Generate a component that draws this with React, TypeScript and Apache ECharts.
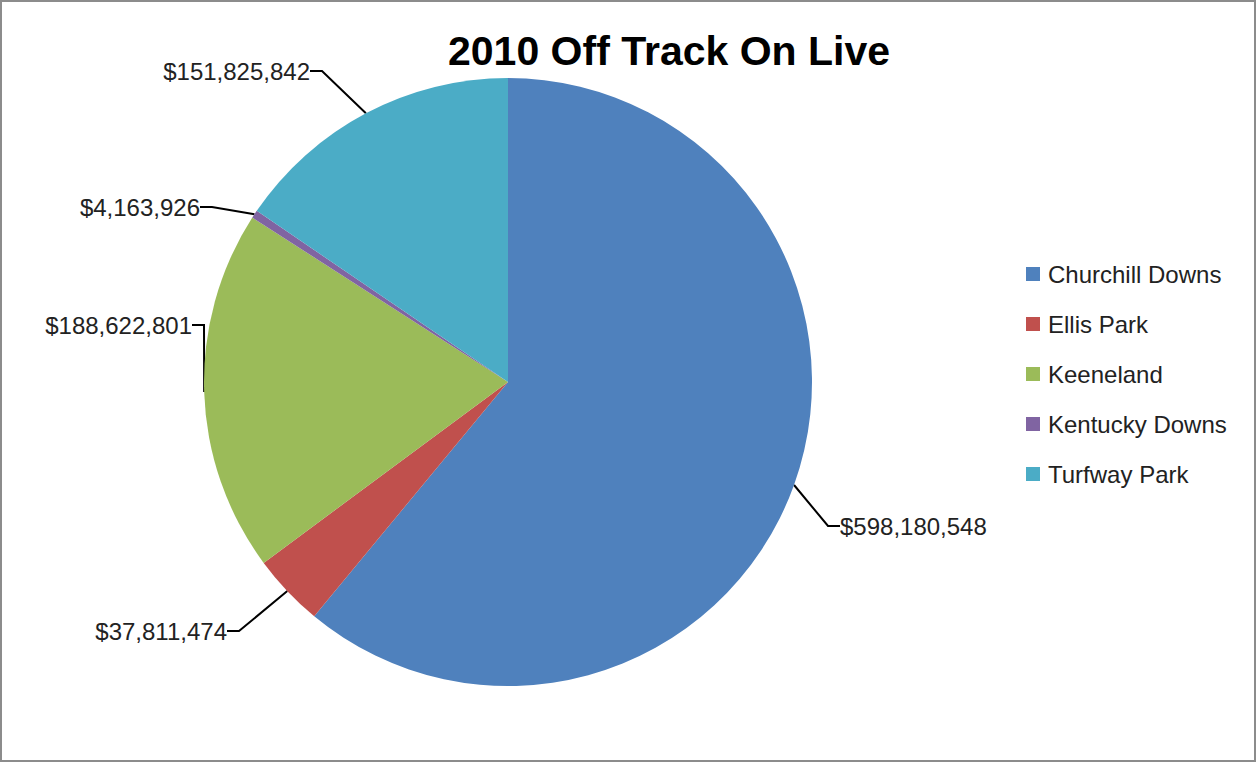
import React, { useEffect, useRef } from "react";
import * as echarts from "echarts";

const TITLE = "2010 Off Track On Live";
const categories = ["Churchill Downs", "Ellis Park", "Keeneland", "Kentucky Downs", "Turfway Park"];
const values = [598180548, 37811474, 188622801, 4163926, 151825842];
const colors = ["#4F81BD", "#C0504D", "#9BBB59", "#8064A2", "#4BACC6"];

// label anchor placement (x, y, align)
const labelPlacement: [number, number, "left" | "right"][] = [
  [840, 526, "left"],
  [227, 631, "right"],
  [192, 325, "right"],
  [200, 207, "right"],
  [310, 71, "right"],
];

const FONT = "'Liberation Sans', Arial, sans-serif";

export default function App() {
  const ref = useRef<HTMLDivElement>(null);
  useEffect(() => {
    if (!ref.current) return;
    const chart = echarts.init(ref.current, null, { renderer: "svg" });
    chart.setOption({
      animation: false,
      backgroundColor: "#ffffff",
      title: {
        text: TITLE,
        left: 443,
        top: 25,
        textStyle: { fontFamily: FONT, fontSize: 41, fontWeight: "bold", color: "#000" },
      },
      legend: {
        orient: "vertical",
        left: 1021,
        top: 257,
        itemWidth: 14,
        itemHeight: 14,
        itemGap: 26,
        icon: "rect",
        data: categories,
        textStyle: { fontFamily: FONT, fontSize: 24, color: "#222", lineHeight: 24, padding: [0, 0, 0, 3] },
      },
      graphic: [
        {
          type: "rect",
          shape: { x: 1, y: 1, width: 1254, height: 760 },
          style: { fill: "none", stroke: "#8c8c8c", lineWidth: 2 },
          silent: true,
        },
      ],
      series: [
        {
          type: "pie",
          center: [508, 382],
          radius: 304,
          startAngle: 90,
          clockwise: true,
          avoidLabelOverlap: false,
          itemStyle: { borderWidth: 0 },
          label: {
            show: true,
            position: "outside",
            fontFamily: FONT,
            fontSize: 24,
            color: "#222",
            formatter: (p: any) => "$" + Number(p.value).toLocaleString("en-US"),
          },
          labelLine: {
            show: true,
            length: 20,
            length2: 12,
            lineStyle: { color: "#000", width: 2 },
          },
          labelLayout: (params: any) => {
            const pl = labelPlacement[params.dataIndex];
            return {
              x: pl[0],
              y: pl[1],
              align: pl[2],
              verticalAlign: "middle",
            };
          },
          emphasis: { disabled: true },
          data: categories.map((c, i) => ({
            name: c,
            value: values[i],
            itemStyle: { color: colors[i] },
          })),
        },
      ],
    });
    return () => chart.dispose();
  }, []);
  return (
    <div
      ref={ref}
      style={{ position: "fixed", left: 0, top: 0, width: 1257, height: 763 }}
    />
  );
}
